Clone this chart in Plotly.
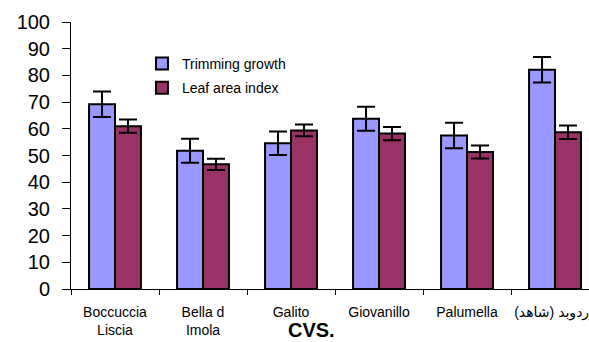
import plotly.graph_objects as go

categories = ["Boccuccia<br>Liscia", "Bella d<br>Imola", "Galito", "Giovanillo", "Palumella", "زردوبد (شاهد)"]
trimming = [69.2, 51.8, 54.6, 63.8, 57.5, 82.1]
trimming_err = [4.8, 4.5, 4.4, 4.5, 4.8, 4.8]
leaf = [61.0, 46.7, 59.4, 58.2, 51.3, 58.7]
leaf_err = [2.5, 2.1, 2.2, 2.5, 2.4, 2.5]
y_ticks = [0, 10, 20, 30, 40, 50, 60, 70, 80, 90, 100]

fig = go.Figure()
fig.add_trace(go.Bar(
    name="Trimming growth", x=categories, y=trimming, legendgroup="a",
    marker=dict(color="#9999FF", line=dict(color="black", width=2)),
    error_y=dict(type="data", array=trimming_err, color="black", thickness=2, width=9),
))
fig.add_trace(go.Bar(
    name="Leaf area index", x=categories, y=leaf, legendgroup="b",
    marker=dict(color="#993366", line=dict(color="black", width=2)),
    error_y=dict(type="data", array=leaf_err, color="black", thickness=2, width=9),
))

fig.update_layout(
    width=589, height=342,
    margin=dict(l=71, r=0, t=22, b=53, autoexpand=False),
    paper_bgcolor="white", plot_bgcolor="white",
    barmode="group", bargap=0.41, bargroupgap=0,
    font=dict(family="Liberation Sans, Arial, DejaVu Sans", color="black"),
    showlegend=True,
    legend=dict(x=0.137, y=0.903, xanchor="left", yanchor="top",
                font=dict(size=14), bgcolor="rgba(0,0,0,0)",
                tracegroupgap=3),
    xaxis=dict(
        type="category", range=[-0.5, 5.386], automargin=False,
        showline=True, linecolor="black", linewidth=1,
        ticks="outside", tickson="boundaries", ticklen=5, tickcolor="black",
        tickfont=dict(size=14, family="Liberation Sans, Arial, DejaVu Sans"),
        ticklabelstandoff=10,
        showgrid=False, zeroline=False,
    ),
    yaxis=dict(
        range=[0, 100], tickvals=y_ticks, automargin=False,
        showline=True, linecolor="black", linewidth=1,
        ticks="outside", ticklen=8, tickcolor="black",
        tickfont=dict(size=20),
        ticklabelstandoff=8,
        showgrid=False, zeroline=False,
    ),
    annotations=[dict(
        text="<b>CVS.</b>", xref="paper", yref="paper",
        x=(311 - 71) / 518, y=-(330 - 289) / 267,
        xanchor="center", yanchor="middle", showarrow=False,
        font=dict(size=20, family="Liberation Sans, Arial"),
    )],
)

fig.write_html("out.html", config={"displayModeBar": False},
               post_script="document.body.style.margin='0';")
